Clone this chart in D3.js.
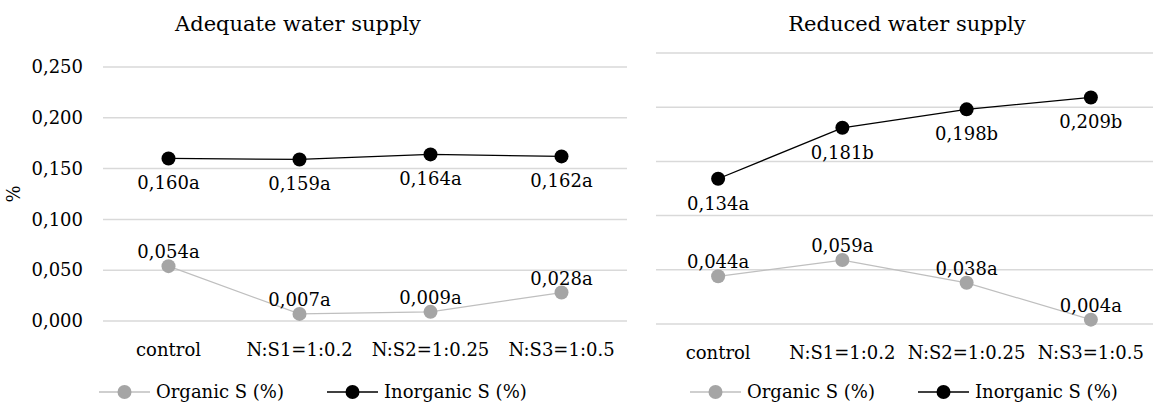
<!DOCTYPE html>
<html>
<head>
<meta charset="utf-8">
<script src="https://cdn.jsdelivr.net/npm/d3@7"></script>
<style>
  body { margin: 0; background: #fff; }
</style>
</head>
<body>
<div id="chart-area"></div>
<script>
// data
var categories = ["control", "N:S1=1:0.2", "N:S2=1:0.25", "N:S3=1:0.5"];
var yTicks = [0, 0.05, 0.1, 0.15, 0.2, 0.25];

var adequateOrganic = [0.054, 0.007, 0.009, 0.028];
var adequateOrganicLetters = ["a", "a", "a", "a"];
var adequateInorganic = [0.160, 0.159, 0.164, 0.162];
var adequateInorganicLetters = ["a", "a", "a", "a"];

var reducedOrganic = [0.044, 0.059, 0.038, 0.004];
var reducedOrganicLetters = ["a", "a", "a", "a"];
var reducedInorganic = [0.134, 0.181, 0.198, 0.209];
var reducedInorganicLetters = ["a", "b", "b", "b"];

var seriesNames = ["Organic S (%)", "Inorganic S (%)"];

var organicLine = "#bfbfbf", organicDot = "#a5a5a5";
var inorganicLine = "#000", inorganicDot = "#000";

// Liberation Serif isn't there, DejaVu Serif is
var serif = "DejaVu Serif";

var fmt = d3.format(".3f");
var comma = v => fmt(v).replace(".", ",");

var svg = d3
  .select("#chart-area")
  .append("svg")
  .attr("width", 1155)
  .attr("height", 405)
  .attr("font-family", serif);

function drawPanel(p) {
  var g = svg.append("g");

  var x = d3.scaleBand().domain(categories).range([p.left, p.right]);
  var y = d3.scaleLinear().domain([0, 0.25]).range([p.bottom, p.top]);

  // title
  g.append("text")
    .attr("x", p.titleX)
    .attr("y", 31)
    .attr("text-anchor", "middle")
    .attr("font-size", 21)
    .text(p.title);

  // gridlines
  g.selectAll(".grid")
    .data(yTicks)
    .enter()
    .append("line")
    .attr("x1", p.left)
    .attr("x2", p.right)
    .attr("y1", d => y(d))
    .attr("y2", d => y(d))
    .attr("stroke", "#d9d9d9")
    .attr("stroke-width", 1.5);

  if (p.showAxis) {
    var axis = d3.axisLeft(y).tickValues(yTicks).tickFormat(comma).tickSize(0).tickPadding(20);
    var ag = g.append("g").attr("transform", "translate(" + p.left + ",0)").call(axis);
    ag.select(".domain").remove();
    ag.attr("font-family", serif).attr("font-size", 18);
    ag.selectAll("text").attr("fill", "#000");

    g.append("text")
      .attr("transform", "translate(20," + (p.top + p.bottom) / 2 + ") rotate(-90)")
      .attr("text-anchor", "middle")
      .attr("font-size", 18)
      .text("%");
  }

  // category labels
  var xa = d3.axisBottom(x).tickSize(0).tickPadding(22);
  var xg = g.append("g").attr("transform", "translate(0," + p.bottom + ")").call(xa);
  xg.select(".domain").remove();
  xg.attr("font-family", serif).attr("font-size", 18);
  xg.selectAll("text").attr("fill", "#000");

  var cx = d => x(d) + x.bandwidth() / 2;

  function series(vals, letters, lineColor, lineWidth, dotColor, above) {
    var pts = categories.map((c, i) => ({ c: c, v: vals[i], l: letters[i] }));
    var line = d3.line().x(d => cx(d.c)).y(d => y(d.v));
    g.append("path")
      .datum(pts)
      .attr("d", line)
      .attr("fill", "none")
      .attr("stroke", lineColor)
      .attr("stroke-width", lineWidth);
    g.selectAll(null)
      .data(pts)
      .enter()
      .append("circle")
      .attr("cx", d => cx(d.c))
      .attr("cy", d => y(d.v))
      .attr("r", 7)
      .attr("fill", dotColor);
    g.selectAll(null)
      .data(pts)
      .enter()
      .append("text")
      .attr("x", d => cx(d.c))
      .attr("y", d => y(d.v) + (above ? -8 : 31))
      .attr("text-anchor", "middle")
      .attr("font-size", 18)
      .text(d => comma(d.v) + d.l);
  }

  series(p.organic, p.organicLetters, organicLine, 1.2, organicDot, true);
  series(p.inorganic, p.inorganicLetters, inorganicLine, 1.3, inorganicDot, false);

  // legend
  var legend = [
    { name: seriesNames[0], line: organicLine, dot: organicDot },
    { name: seriesNames[1], line: inorganicLine, dot: inorganicDot }
  ];
  var lg = g.selectAll(".legend")
    .data(legend)
    .enter()
    .append("g")
    .attr("transform", (d, i) => "translate(" + (p.legendX + i * 228) + ",392)");
  lg.append("line")
    .attr("x1", 0).attr("x2", 51)
    .attr("stroke", d => d.line)
    .attr("stroke-width", 1.3);
  lg.append("circle")
    .attr("cx", 25.5)
    .attr("r", 7)
    .attr("fill", d => d.dot);
  lg.append("text")
    .attr("x", 57)
    .attr("dy", "0.35em")
    .attr("font-size", 18)
    .text(d => d.name);
}

drawPanel({
  title: "Adequate water supply",
  titleX: 298,
  left: 103, right: 627, top: 67, bottom: 321,
  showAxis: true,
  legendX: 99,
  organic: adequateOrganic, organicLetters: adequateOrganicLetters,
  inorganic: adequateInorganic, inorganicLetters: adequateInorganicLetters
});

drawPanel({
  title: "Reduced water supply",
  titleX: 907,
  left: 656, right: 1153, top: 53, bottom: 324,
  showAxis: false,
  legendX: 690,
  organic: reducedOrganic, organicLetters: reducedOrganicLetters,
  inorganic: reducedInorganic, inorganicLetters: reducedInorganicLetters
});
</script>
</body>
</html>
